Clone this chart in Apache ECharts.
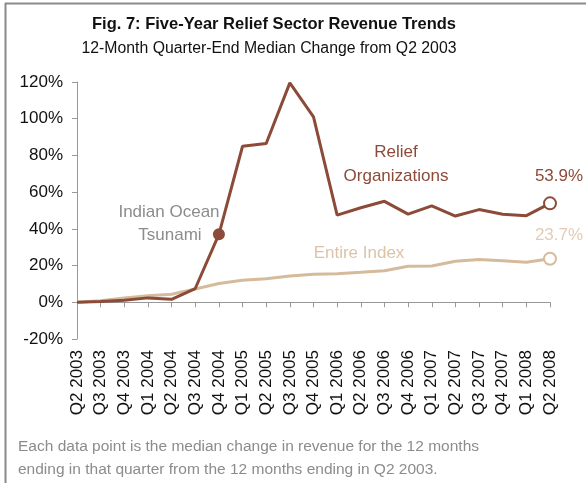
<!DOCTYPE html>
<html>
<head>
<meta charset="utf-8">
<script src="https://cdn.jsdelivr.net/npm/echarts@6/dist/echarts.min.js"></script>
<style>
html, body { margin: 0; padding: 0; background: #fff; }
#chart { width: 586px; height: 483px; }
</style>
</head>
<body>
<div id="chart"></div>
<script>
var quarters = ['Q2 2003', 'Q3 2003', 'Q4 2003', 'Q1 2004', 'Q2 2004', 'Q3 2004', 'Q4 2004',
    'Q1 2005', 'Q2 2005', 'Q3 2005', 'Q4 2005', 'Q1 2006', 'Q2 2006', 'Q3 2006', 'Q4 2006',
    'Q1 2007', 'Q2 2007', 'Q3 2007', 'Q4 2007', 'Q1 2008', 'Q2 2008'];
var reliefOrgs = [0, 0.4, 1.1, 2.4, 1.6, 7.5, 37, 85, 86.5, 119.5, 101, 47.5, 51.5, 55, 48,
    52.5, 47, 50.5, 48, 47.2, 53.9];
var entireIndex = [0, 0.9, 2.4, 3.6, 4.4, 7.2, 10.2, 12, 12.8, 14.3, 15.3, 15.5, 16.3, 17.2, 19.6,
    19.8, 22.4, 23.3, 22.6, 21.8, 23.7];
var yTicks = [-20, 0, 20, 40, 60, 80, 100, 120];
var tsunamiIdx = 6;

var brown = '#8c4b38';
var tan = '#d6ba9c';
var font = 'Liberation Sans';

function buildData(values, color, markTsunami) {
    var last = values.length - 1;
    return values.map(function (v, i) {
        if (i == last) {
            return {
                value: v, symbol: 'circle', symbolSize: 12,
                itemStyle: { color: '#fff', borderColor: color, borderWidth: 2 }
            };
        }
        if (markTsunami && i == tsunamiIdx) {
            return { value: v, symbol: 'circle', symbolSize: 12, itemStyle: { color: color } };
        }
        return v;
    });
}

var myChart = echarts.init(document.getElementById('chart'));
var option = {
    animation: false,
    textStyle: { fontFamily: font },
    title: [{
        text: 'Fig. 7: Five-Year Relief Sector Revenue Trends',
        left: 269,
        top: 11,
        textAlign: 'center',
        textStyle: { fontFamily: font, fontSize: 16.5, fontWeight: 'bold', color: '#111' }
    }, {
        text: '12-Month Quarter-End Median Change from Q2 2003',
        left: 264,
        top: 36,
        textAlign: 'center',
        textStyle: { fontFamily: font, fontSize: 15.8, fontWeight: 'normal', color: '#111' }
    }],
    grid: { left: 77, right: 36, top: 82, bottom: 144, containLabel: false },
    xAxis: [{
        type: 'category',
        data: quarters,
        boundaryGap: false,
        position: 'bottom',
        axisLine: { show: false, onZero: false },
        axisTick: { show: false },
        axisLabel: { rotate: 90, interval: 0, margin: 11, fontSize: 17, color: '#111', fontFamily: font }
    }, {
        type: 'category',
        data: quarters,
        boundaryGap: false,
        position: 'top',
        axisLine: { show: true, onZero: true, lineStyle: { color: '#999', width: 1 } },
        axisTick: { show: true, inside: true, length: 5, interval: 0, lineStyle: { color: '#999' } },
        axisLabel: { show: false }
    }],
    yAxis: {
        type: 'value',
        min: yTicks[0],
        max: yTicks[yTicks.length - 1],
        interval: 20,
        axisLine: { show: true, lineStyle: { color: '#999', width: 1 } },
        axisTick: { show: true, length: 5, lineStyle: { color: '#999' } },
        axisLabel: { formatter: '{value}%', margin: 14, fontSize: 17, color: '#111', fontFamily: font },
        splitLine: { show: false }
    },
    series: [{
        name: 'Entire Index',
        type: 'line',
        xAxisIndex: 0,
        symbol: 'none',
        lineStyle: { color: tan, width: 3 },
        itemStyle: { color: tan },
        data: buildData(entireIndex, tan, false),
        z: 2
    }, {
        name: 'Relief Organizations',
        type: 'line',
        xAxisIndex: 0,
        symbol: 'none',
        lineStyle: { color: brown, width: 3 },
        itemStyle: { color: brown },
        data: buildData(reliefOrgs, brown, true),
        z: 3
    }],
    graphic: [
        { type: 'line', shape: { x1: 5.5, y1: 3, x2: 5.5, y2: 483 }, style: { stroke: '#8a8a8a', lineWidth: 2 } },
        { type: 'line', shape: { x1: 5, y1: 3.5, x2: 586, y2: 3.5 }, style: { stroke: '#8a8a8a', lineWidth: 2 } },
        { type: 'text', x: 169, y: 212, style: { text: 'Indian Ocean', fill: '#8c8c8c', font: '17px ' + font, align: 'center', verticalAlign: 'middle' } },
        { type: 'text', x: 170, y: 235, style: { text: 'Tsunami', fill: '#8c8c8c', font: '17px ' + font, align: 'center', verticalAlign: 'middle' } },
        { type: 'text', x: 396, y: 152, style: { text: 'Relief', fill: brown, font: '17px ' + font, align: 'center', verticalAlign: 'middle' } },
        { type: 'text', x: 396, y: 176, style: { text: 'Organizations', fill: brown, font: '17px ' + font, align: 'center', verticalAlign: 'middle' } },
        { type: 'text', x: 359, y: 253, style: { text: 'Entire Index', fill: '#dcc3a8', font: '17px ' + font, align: 'center', verticalAlign: 'middle' } },
        { type: 'text', x: 559, y: 176, style: { text: '53.9%', fill: brown, font: '17px ' + font, align: 'center', verticalAlign: 'middle' } },
        { type: 'text', x: 559, y: 235, style: { text: '23.7%', fill: '#e2ccb6', font: '17px ' + font, align: 'center', verticalAlign: 'middle' } },
        { type: 'text', x: 18, y: 447, style: { text: 'Each data point is the median change in revenue for the 12 months', fill: '#8c8c8c', font: '15.5px ' + font, verticalAlign: 'middle' } },
        { type: 'text', x: 18, y: 470, style: { text: 'ending in that quarter from the 12 months ending in Q2 2003.', fill: '#8c8c8c', font: '15.5px ' + font, verticalAlign: 'middle' } }
    ]
};
myChart.setOption(option);
</script>
</body>
</html>
